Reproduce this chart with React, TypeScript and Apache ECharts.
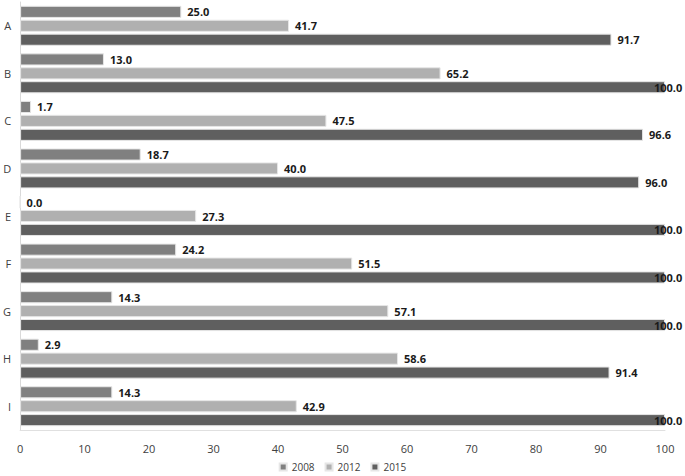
import React, { useEffect, useRef } from "react";
import * as echarts from "echarts";

const categories = ["A", "B", "C", "D", "E", "F", "G", "H", "I"];
const series2008 = [25.0, 13.0, 1.7, 18.7, 0.0, 24.2, 14.3, 2.9, 14.3];
const series2012 = [41.7, 65.2, 47.5, 40.0, 27.3, 51.5, 57.1, 58.6, 42.9];
const series2015 = [91.7, 100.0, 96.6, 96.0, 100.0, 100.0, 100.0, 91.4, 100.0];
const seriesNames = ["2008", "2012", "2015"];
const colors = ["#808080", "#b0b0b0", "#5f5f5f"];

const FONT = "'Open Sans', 'Liberation Sans', sans-serif";

export default function App() {
  const ref = useRef<HTMLDivElement>(null);
  useEffect(() => {
    if (!ref.current) return;
    const chart = echarts.init(ref.current, undefined, { renderer: "svg" });
    const mk = (name: string, data: number[], color: string) => ({
      name,
      type: "bar",
      data: data.map((v) =>
        v >= 100
          ? { value: v, label: { offset: [-17, 0] } }
          : { value: v }
      ),
      barGap: "15%",
      barCategoryGap: "16%",
      itemStyle: { color, borderColor: "#e6e6e6", borderWidth: 1 },
      label: {
        show: true,
        position: "right",
        distance: 6,
        formatter: (p: any) => p.value.toFixed(1),
        color: "#1a1a1a",
        fontWeight: "bold",
        fontSize: 11,
        fontFamily: FONT,
      },
    });
    chart.setOption({
      animation: false,
      grid: { left: 20, right: 20, top: 2, bottom: 46, containLabel: false },
      legend: {
        bottom: -1,
        left: "center",
        itemWidth: 7,
        itemHeight: 7,
        itemGap: 10,
        icon: "rect",
        textStyle: { fontSize: 10, color: "#404040", fontFamily: FONT },
        data: seriesNames,
      },
      xAxis: {
        type: "value",
        min: 0,
        max: 100,
        interval: 10,
        axisLine: { show: true, lineStyle: { color: "#e0e0e0" } },
        axisTick: { show: false },
        splitLine: { show: false },
        axisLabel: { color: "#404040", fontSize: 11, margin: 13, fontFamily: FONT },
      },
      yAxis: {
        type: "category",
        data: categories,
        inverse: true,
        axisLine: { show: true, lineStyle: { color: "#d9d9d9" } },
        axisTick: { show: false },
        axisLabel: { color: "#404040", fontSize: 11, margin: 9, fontFamily: FONT },
      },
      series: [
        mk(seriesNames[0], series2008, colors[0]),
        mk(seriesNames[1], series2012, colors[1]),
        mk(seriesNames[2], series2015, colors[2]),
      ],
    });
    return () => chart.dispose();
  }, []);
  return <div ref={ref} style={{ width: 685, height: 476, position: "absolute", left: 0, top: 0 }} />;
}
